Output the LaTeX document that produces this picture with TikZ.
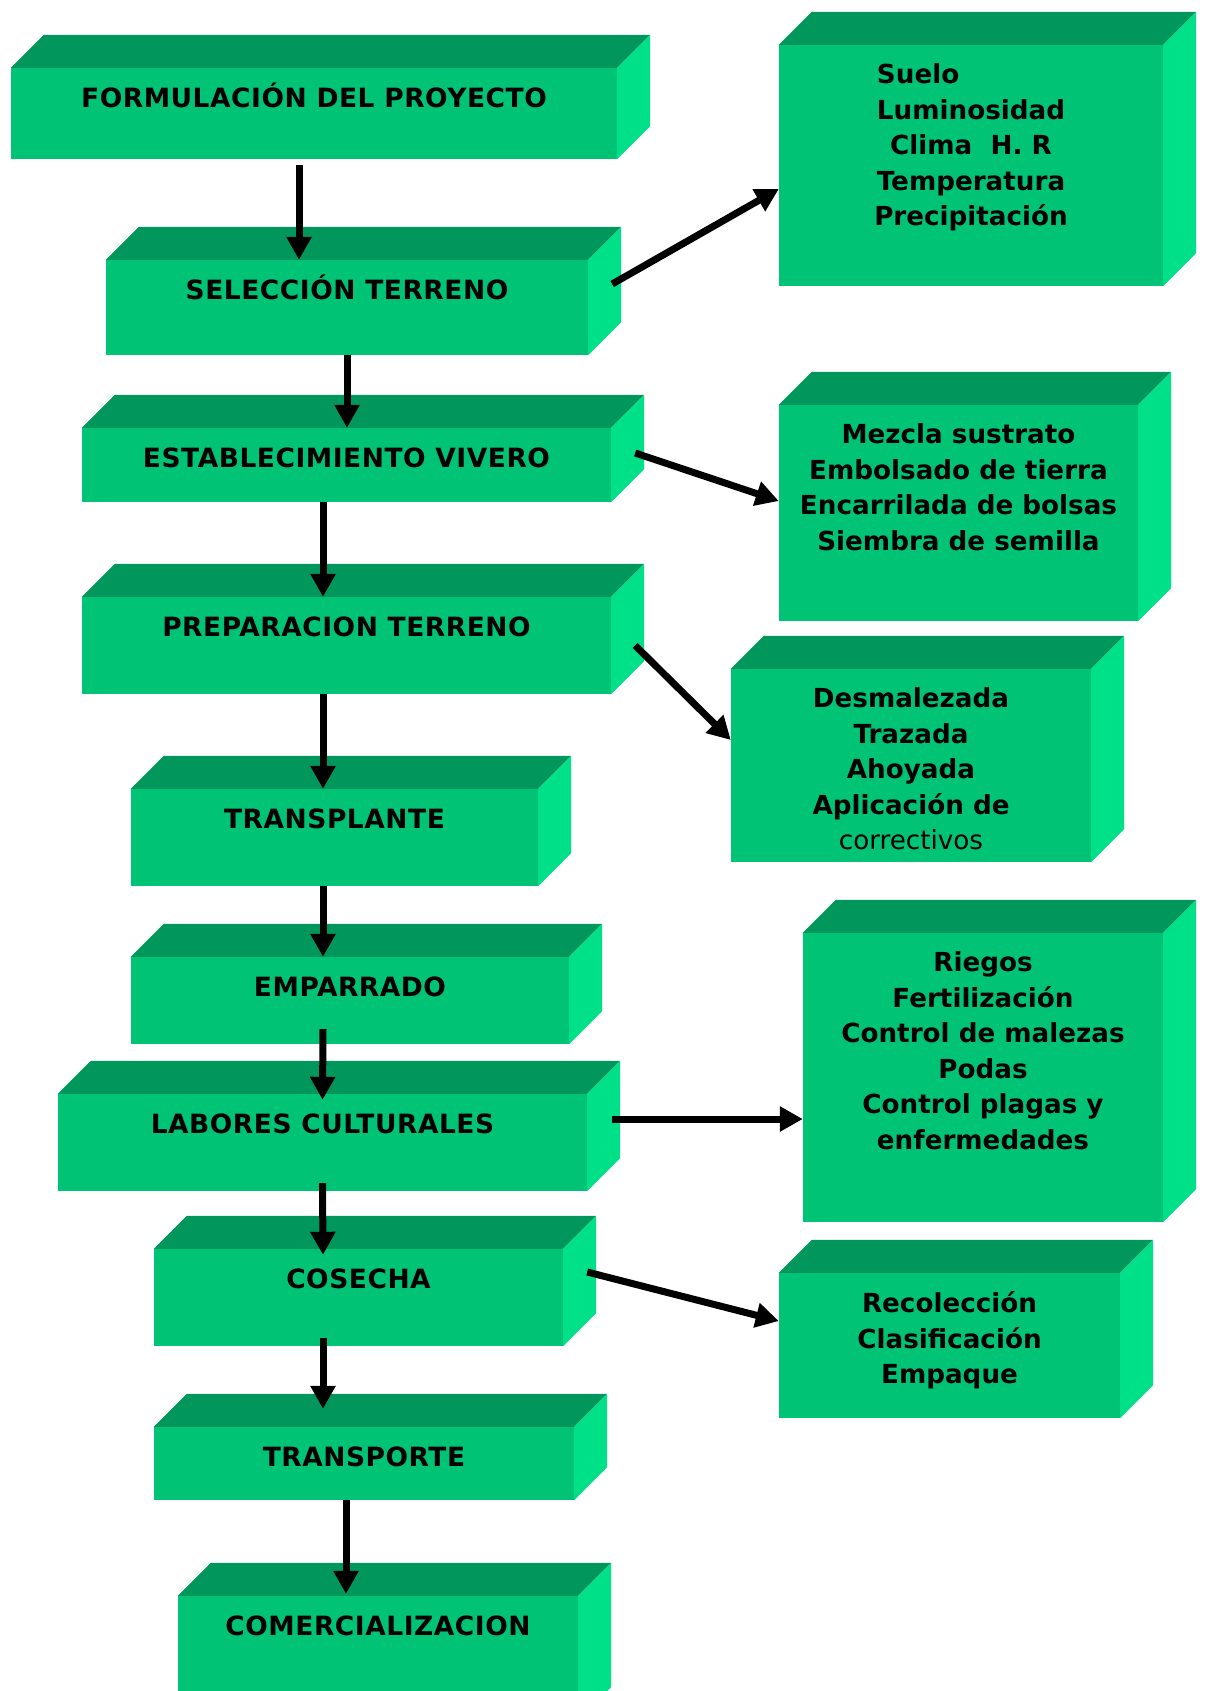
\documentclass[tikz,border=0pt]{standalone}
\usepackage{fontspec}
\setmainfont{DejaVu Sans}
\usepackage{tikz}
\usetikzlibrary{arrows.meta, positioning}

\definecolor{frente}{HTML}{00C375}
\definecolor{tapa}{HTML}{00965C}
\definecolor{lado}{HTML}{00E088}

\begin{document}
\begin{tikzpicture}[x=1pt, y=-1pt, inner sep=0pt,
	caja/.style={fill=frente, draw=none},
	titulo/.style={font=\fontsize{26.5pt}{35.5pt}\selectfont\bfseries\addfontfeature{LetterSpace=2}, text height=19.4pt, text depth=0pt},
	lista/.style={font=\fontsize{26.2pt}{35.5pt}\selectfont\bfseries, align=center},
	flecha/.style={-{Triangle[length=23pt, width=24pt]}, line width=7pt, black}]

	\useasboundingbox (0,0) rectangle (1205,1691);
	\clip (0,0) rectangle (1205,1691);

	% cajas izquierda
	\node[caja, minimum width=606pt, minimum height=91pt](formulacion) at (314,113.5) {};
	\node[caja, minimum width=482pt, minimum height=95pt](seleccion) at (347,307.5) {};
	\node[caja, minimum width=529pt, minimum height=74pt](establecimiento) at (346.5,465) {};
	\node[caja, minimum width=529pt, minimum height=97pt](preparacion) at (346.5,645.5) {};
	\node[caja, minimum width=407pt, minimum height=97pt](transplante) at (334.5,837.5) {};
	\node[caja, minimum width=438pt, minimum height=87pt](emparrado) at (350,1000.5) {};
	\node[caja, minimum width=529pt, minimum height=97pt](labores) at (322.5,1142.5) {};
	\node[caja, minimum width=409pt, minimum height=97pt](cosecha) at (358.5,1297.5) {};
	\node[caja, minimum width=420pt, minimum height=73pt](transporte) at (364,1463.5) {};
	\node[caja, minimum width=400pt, minimum height=124pt](comercializacion) at (378,1658) {};

	% cajas derecha
	\node[caja, minimum width=384pt, minimum height=241pt](suelo) at (971,165.5) {};
	\node[caja, minimum width=359pt, minimum height=216pt](mezcla) at (958.5,513) {};
	\node[caja, minimum width=360pt, minimum height=193pt](desmalezada) at (911,765.5) {};
	\node[caja, minimum width=360pt, minimum height=289pt](riegos) at (983,1077.5) {};
	\node[caja, minimum width=341pt, minimum height=145pt](recoleccion) at (949.5,1345.5) {};

	% tapa y lado
	\foreach \n in {formulacion, seleccion, establecimiento, preparacion, transplante, emparrado, labores, cosecha, transporte, comercializacion, suelo, mezcla, desmalezada, riegos, recoleccion}{
		\fill[tapa] (\n.north west) -- ++(33,-33) -- ([xshift=33pt, yshift=33pt]\n.north east) -- (\n.north east) -- cycle;
		\fill[lado] (\n.north east) -- ++(33,-33) -- ([xshift=33pt, yshift=33pt]\n.south east) -- (\n.south east) -- cycle;
	}

	% textos
	\node[titulo, below=20pt of formulacion.north] {FORMULACIÓN DEL PROYECTO};
	\node[titulo, below=20pt of seleccion.north] {SELECCIÓN TERRENO};
	\node[titulo, below=20pt of establecimiento.north] {ESTABLECIMIENTO VIVERO};
	\node[titulo, below=20pt of preparacion.north] {PREPARACION TERRENO};
	\node[titulo, below=20pt of transplante.north] {TRANSPLANTE};
	\node[titulo, below=20pt of emparrado.north] {EMPARRADO};
	\node[titulo, below=20pt of labores.north] {LABORES CULTURALES};
	\node[titulo, below=20pt of cosecha.north] {COSECHA};
	\node[titulo, below=20pt of transporte.north] {TRANSPORTE};
	\node[titulo, below=20pt of comercializacion.north] {COMERCIALIZACION};

	\node[lista, below=19pt of suelo.north] {\rlap{Suelo}\phantom{Luminosidad}\\Luminosidad\\Clima\ \ H. R\\Temperatura\\Precipitación};
	\node[lista, below=19pt of mezcla.north] {Mezcla sustrato\\Embolsado de tierra\\Encarrilada de bolsas\\Siembra de semilla};
	\node[lista, below=19pt of desmalezada.north] {Desmalezada\\Trazada\\Ahoyada\\Aplicación de\\\mdseries correctivos};
	\node[lista, below=19pt of riegos.north] {Riegos\\Fertilización\\Control de malezas\\Podas\\Control plagas y\\enfermedades};
	\node[lista, below=19pt of recoleccion.north] {Recolección\\Clasificación\\Empaque};

	% flechas verticales
	\draw[flecha] ([xshift=-15pt, yshift=-6pt]formulacion.south) -- ([xshift=-48pt]seleccion.north);
	\draw[flecha] (seleccion.south) -- (seleccion.south |- establecimiento.north);
	\draw[flecha] ([xshift=-23.5pt]establecimiento.south) -- ([xshift=-23.5pt]preparacion.north);
	\draw[flecha] ([xshift=-23.5pt]preparacion.south) -- ([xshift=-11.5pt]transplante.north);
	\draw[flecha] ([xshift=-11.5pt]transplante.south) -- ([xshift=-27pt]emparrado.north);
	\draw[flecha] ([xshift=-27pt, yshift=15pt]emparrado.south) -- ([yshift=-6pt]labores.north);
	\draw[flecha] ([yshift=8pt]labores.south) -- ([xshift=-35.5pt, yshift=-6pt]cosecha.north);
	\draw[flecha] ([xshift=-35.5pt, yshift=8pt]cosecha.south) -- ([xshift=-41pt, yshift=18pt]transporte.north);
	\draw[flecha] ([xshift=-18pt]transporte.south) -- ([xshift=-32pt, yshift=2pt]comercializacion.north);

	% flechas a la derecha
	\draw[flecha] ([xshift=24pt, yshift=23.5pt]seleccion.east) -- ([yshift=-23.5pt]suelo.west);
	\draw[flecha] ([xshift=24pt, yshift=12pt]establecimiento.east) -- ([yshift=12pt]mezcla.west);
	\draw[flecha] ([xshift=24pt]preparacion.east) -- ([yshift=25.5pt]desmalezada.west);
	\draw[flecha] ([xshift=25pt, yshift=23.5pt]labores.east) -- ([yshift=-41.5pt]riegos.west);
	\draw[flecha] ([xshift=24pt, yshift=25.5pt]cosecha.east) -- ([yshift=24.5pt]recoleccion.west);
\end{tikzpicture}
\end{document}
